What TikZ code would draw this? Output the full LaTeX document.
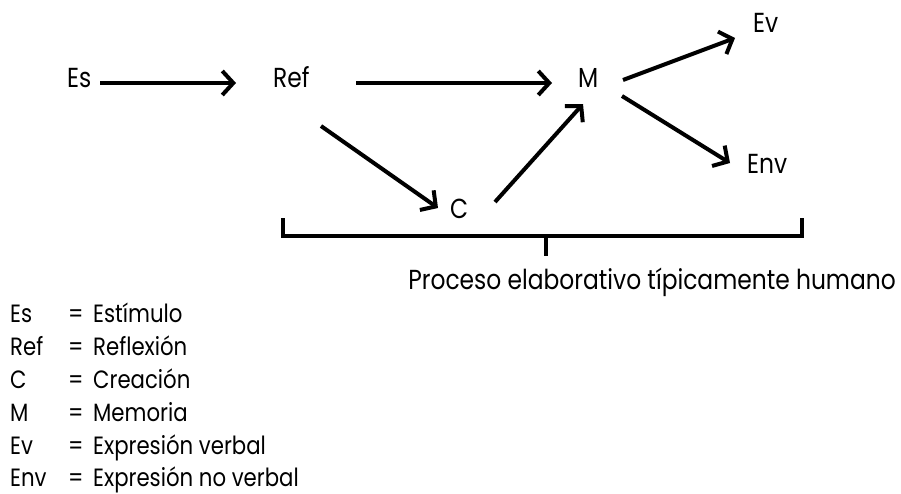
\documentclass[tikz,border=0pt]{standalone}
\usepackage{fontspec}
\setmainfont[FakeStretch=0.85]{Poppins}
\usetikzlibrary{arrows.meta}

\begin{document}
\begin{tikzpicture}[x=1pt,y=-1pt,
  lbl/.style={inner sep=0pt, anchor=base west, font=\fontsize{27.5}{27.5}\selectfont},
  leg/.style={inner sep=0pt, anchor=base west, font=\fontsize{25}{25}\selectfont},
  arr/.style={line width=4pt, -{Straight Barb[length=11pt,width=24pt,line width=4pt]}},
  brace/.style={line width=4pt}]
\useasboundingbox (0,0) rectangle (901,493);

% main labels
\node[lbl] (es)  at (67,87)  {Es};
\node[lbl] (ref) at (273,87) {Ref};
\node[lbl] (m)   at (578,87) {M};
\node[lbl] (c)   at (450,218) {C};
\node[lbl] (ev)  at (753,32) {Ev};
\node[lbl] (env) at (747,173) {Env};

% connectors
\draw[arr] ([shift={(33,-4)}]es.base west)  -- ([shift={(-37,-4)}]ref.base west);
\draw[arr] ([shift={(83,-4)}]ref.base west) -- ([shift={(-26,-4)}]m.base west);
\draw[arr] ([shift={(48,39)}]ref.base west) -- ([shift={(-12,-10)}]c.base west);
\draw[arr] ([shift={(45,-16)}]c.base west)  -- ([shift={(5,17)}]m.base west);
\draw[arr] ([shift={(45,-7)}]m.base west)   -- ([shift={(-18,6)}]ev.base west);
\draw[arr] ([shift={(44,9)}]m.base west)    -- ([shift={(-17,-10)}]env.base west);

% bracket grouping the elaborative process
\coordinate (bl) at (283,218);
\coordinate (br) at (802,218);
\coordinate (bm) at (546,236);
\draw[brace] (bl) |- (br |- bm) -- (br);
\node[lbl, anchor=base east] (proc) at (896,289) {Proceso elaborativo típicamente humano};
\draw[brace] (bm) -- (bm |- 0,256);

% legend
\foreach \ab/\txt/\yy [count=\i] in {Es/Estímulo/322, Ref/Reflexión/355, C/Creación/388,
    M/Memoria/421, Ev/Expresión verbal/454, Env/Expresión no verbal/486}{
  \node[leg] (ab\i) at (10,\yy) {\ab};
  \node[leg] (eq\i) at (68,\yy) {=};
  \node[leg] (tx\i) at (93,\yy) {\txt};
}
\end{tikzpicture}
\end{document}
